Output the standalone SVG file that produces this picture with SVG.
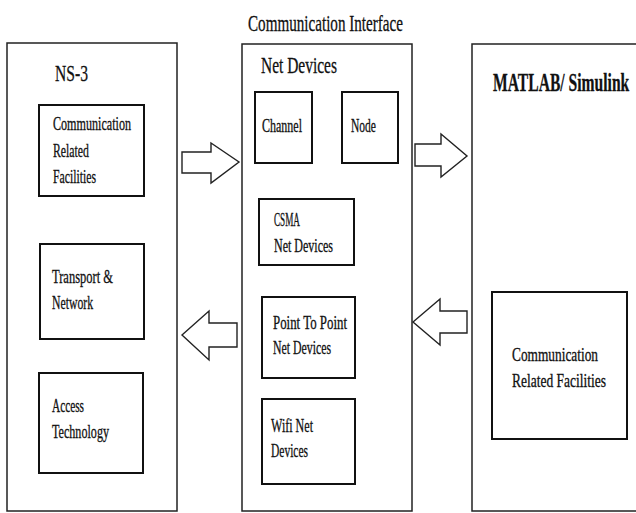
<svg xmlns="http://www.w3.org/2000/svg" width="636" height="513" viewBox="0 0 636 513">
<style>
.outer{fill:#fff;stroke:#222;stroke-width:1.5}
.inner{fill:#fff;stroke:#111;stroke-width:2}
.arr{fill:#fff;stroke:#222;stroke-width:1.4;stroke-linejoin:miter}
text{font-family:"Liberation Serif","Times New Roman",serif;fill:#111;stroke:#111;stroke-width:0.3}
.t{font-size:18px}
.h{font-size:24px}
.b{font-size:26px;font-weight:bold}
</style>
<rect width="636" height="513" fill="#fff"/>
<text class="h" x="248" y="31" textLength="155" lengthAdjust="spacingAndGlyphs">Communication Interface</text>
<g id="ns3">
<rect class="outer" x="7" y="43" width="170" height="468"/>
<text class="h" x="55" y="81" textLength="33" lengthAdjust="spacingAndGlyphs">NS-3</text>
</g>
<g id="ns3-comm">
<rect class="inner" x="39" y="105" width="105" height="91"/>
<text class="t" x="53" y="130" textLength="78" lengthAdjust="spacingAndGlyphs">Communication</text>
<text class="t" x="53" y="157" textLength="36" lengthAdjust="spacingAndGlyphs">Related</text>
<text class="t" x="53" y="183" textLength="43" lengthAdjust="spacingAndGlyphs">Facilities</text>
</g>
<g id="ns3-transport">
<rect class="inner" x="40" y="244" width="104" height="95"/>
<text class="t" x="52" y="283" textLength="61" lengthAdjust="spacingAndGlyphs">Transport &amp;</text>
<text class="t" x="52" y="309" textLength="41" lengthAdjust="spacingAndGlyphs">Network</text>
</g>
<g id="ns3-access">
<rect class="inner" x="39" y="373" width="104" height="100"/>
<text class="t" x="52" y="412" textLength="32" lengthAdjust="spacingAndGlyphs">Access</text>
<text class="t" x="52" y="438" textLength="57" lengthAdjust="spacingAndGlyphs">Technology</text>
</g>
<g id="netdevices">
<rect class="outer" x="242" y="44" width="170" height="467"/>
<text class="h" x="261" y="73" textLength="76" lengthAdjust="spacingAndGlyphs">Net Devices</text>
</g>
<g id="channel">
<rect class="inner" x="255" y="92" width="57" height="71"/>
<text class="t" x="262" y="132" textLength="40" lengthAdjust="spacingAndGlyphs">Channel</text>
</g>
<g id="node">
<rect class="inner" x="342" y="92" width="56" height="71"/>
<text class="t" x="351" y="132" textLength="25" lengthAdjust="spacingAndGlyphs">Node</text>
</g>
<g id="csma">
<rect class="inner" x="259" y="199" width="95" height="66"/>
<text class="t" x="274" y="226" textLength="26" lengthAdjust="spacingAndGlyphs">CSMA</text>
<text class="t" x="274" y="252" textLength="59" lengthAdjust="spacingAndGlyphs">Net Devices</text>
</g>
<g id="p2p">
<rect class="inner" x="262" y="297" width="93" height="81"/>
<text class="t" x="273" y="329" textLength="74" lengthAdjust="spacingAndGlyphs">Point To Point</text>
<text class="t" x="273" y="354" textLength="58" lengthAdjust="spacingAndGlyphs">Net Devices</text>
</g>
<g id="wifi">
<rect class="inner" x="262" y="399" width="93" height="85"/>
<text class="t" x="271" y="432" textLength="42" lengthAdjust="spacingAndGlyphs">Wifi Net</text>
<text class="t" x="271" y="457" textLength="37" lengthAdjust="spacingAndGlyphs">Devices</text>
</g>
<g id="matlab">
<rect class="outer" x="472" y="44" width="170" height="467"/>
<text class="b" transform="translate(493,91) scale(0.6,1)" x="0" y="0">MATLAB/ Simulink</text>
</g>
<g id="matlab-comm">
<rect class="inner" x="492" y="292" width="135" height="147"/>
<text class="t" x="512" y="361" textLength="86" lengthAdjust="spacingAndGlyphs">Communication</text>
<text class="t" x="512" y="387" textLength="94" lengthAdjust="spacingAndGlyphs">Related Facilities</text>
</g>
<g id="connectors">
<polygon class="arr" points="182,152 211,152 211,143 239,162 211,183 211,173 182,173"/>
<polygon class="arr" points="182,335 209,311 209,323 237,323 237,347 209,347 209,360"/>
<polygon class="arr" points="415,144 441,144 441,134 467,156 441,177 441,166 415,166"/>
<polygon class="arr" points="413,322 440,299 440,311 467,311 467,333 440,333 440,345"/>
</g>
</svg>
